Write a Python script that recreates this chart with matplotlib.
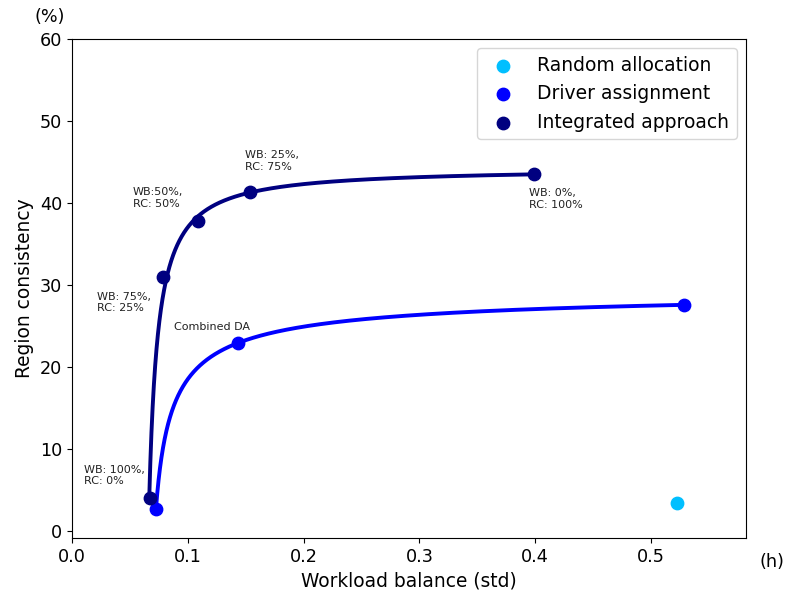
import numpy as np
import matplotlib
matplotlib.use("Agg")
from matplotlib import pyplot as plt

# data
random_x = [0.522]
random_y = [3.4]

driver_x = np.array([0.0725, 0.1434, 0.5285])
driver_y = np.array([2.75, 22.96, 27.6])

integ_x = np.array([0.0674, 0.0786, 0.1088, 0.1537, 0.399])
integ_y = np.array([4.09, 31.0, 37.8, 41.35, 43.5])

notes = ["WB: 100%,\nRC: 0%", "WB: 75%,\nRC: 25%", "WB:50%,\nRC: 50%",
         "WB: 25%,\nRC: 75%", "WB: 0%,\nRC: 100%", "Combined DA"]
note_x = [0.0104, 0.0216, 0.0527, 0.1494, 0.3946, 0.0881]
note_y = [6.8, 27.9, 40.6, 45.1, 40.5, 24.9]


def fit_curve(x, y):
    # x = c + b / (a - y)**p, grid over a and p, least squares for c and b
    best = None
    for p in np.linspace(0.4, 2.0, 81):
        for a in np.linspace(y.max() + 0.02, y.max() + 15, 600):
            u = 1.0 / (a - y) ** p
            A = np.vstack([np.ones_like(u), u]).T
            coef = np.linalg.lstsq(A, x, rcond=None)[0]
            err = np.sum(((A @ coef - x) / x) ** 2)
            if best is None or err < best[0]:
                best = (err, a, p, coef)
    return best[1:]


def curve(x, y):
    a, p, (c, b) = fit_curve(x, y)
    yy = np.linspace(y[0], y[-1], 4000)
    return c + b / (a - yy) ** p, yy


fig, ax = plt.subplots(figsize=(7.87, 5.99), dpi=100)
fig.subplots_adjust(left=0.0915, right=0.948, top=0.935, bottom=0.102)

dx, dy = curve(driver_x, driver_y)
ix, iy = curve(integ_x, integ_y)
ax.plot(dx, dy, color="blue", lw=2.8, zorder=2)
ax.plot(ix, iy, color="navy", lw=2.8, zorder=2)

ax.scatter(random_x, random_y, s=80, color="deepskyblue", label="Random allocation", zorder=3)
ax.scatter(driver_x, driver_y, s=80, color="blue", label="Driver assignment", zorder=3)
ax.scatter(integ_x, integ_y, s=80, color="navy", label="Integrated approach", zorder=3)

for t, x, y in zip(notes, note_x, note_y):
    ax.text(x, y, t, fontsize=8, ha="left", va="center", color="#222222")

ax.set_xlim(0, 0.582)
ax.set_ylim(-0.8, 60)
ax.set_xticks([0.0, 0.1, 0.2, 0.3, 0.4, 0.5])
ax.set_yticks([0, 10, 20, 30, 40, 50, 60])
ax.tick_params(labelsize=12.7)
ax.set_xlabel("Workload balance (std)", fontsize=13.4)
ax.set_ylabel("Region consistency", fontsize=13.4)
ax.legend(loc="upper right", fontsize=13.5)

fig.text(50 / 787, 1 - 17 / 599, "(%)", fontsize=12.7, ha="center", va="center")
fig.text(772 / 787, 1 - 562 / 599, "(h)", fontsize=12.7, ha="center", va="center")

fig.savefig("out.png", dpi=100)
